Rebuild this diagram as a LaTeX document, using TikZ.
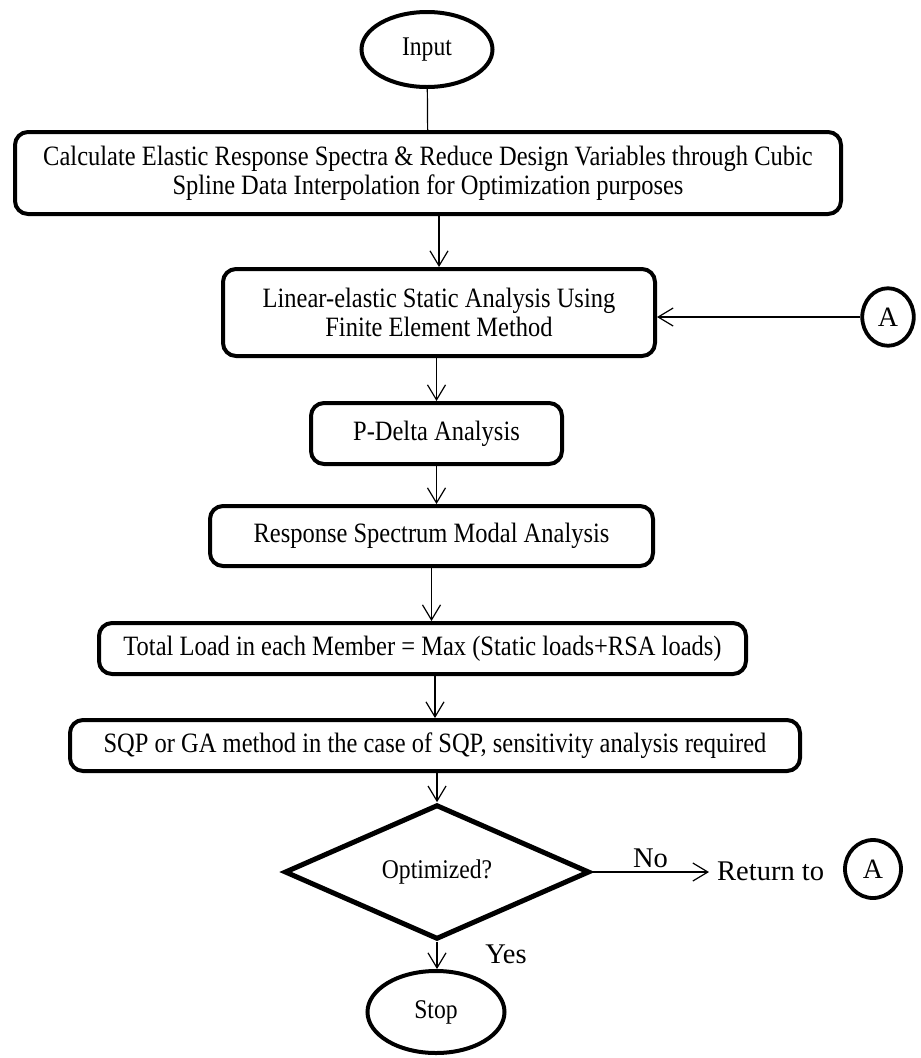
\documentclass[tikz,border=0pt]{standalone}
\usepackage{fontspec}
\setmainfont{Liberation Serif}[FakeStretch=0.875]
\newfontfamily\labelfont{Liberation Serif}
\usetikzlibrary{shapes.geometric, arrows.meta}

\tikzset{
  procbox/.style={draw, line width=4pt, rounded corners=13pt, align=center,
    inner sep=0pt, font=\fontsize{28}{29}\selectfont},
  termnode/.style={draw, ellipse, line width=4pt, inner sep=0pt,
    font=\fontsize{27}{29}\selectfont},
  decision/.style={draw, diamond, line width=5pt, inner sep=0pt,
    font=\fontsize{27}{29}\selectfont},
  linkcirc/.style={draw, ellipse, line width=3.8pt, inner sep=0pt,
    font=\labelfont\fontsize{28}{30}\selectfont},
  biglabel/.style={inner sep=0pt, font=\labelfont\fontsize{28.5}{30}\selectfont},
  flow/.style={line width=1.2pt, -{Straight Barb[length=15pt,width=18pt]}}
}

\begin{document}
\begin{tikzpicture}[x=1pt, y=-1pt]
                \useasboundingbox (0,0) rectangle (921,1058);
                % main column
                \node[termnode, minimum width=131pt, minimum height=75pt] (input) at (427,49.5) {Input};
                \node[procbox, minimum width=826pt, minimum height=82pt] (calc) at (428,173)
                    {Calculate Elastic Response Spectra \& Reduce Design Variables through Cubic\\
                     Spline Data Interpolation for Optimization purposes};
                \node[procbox, minimum width=432pt, minimum height=87pt] (lin) at (439,312.5)
                    {Linear-elastic Static Analysis Using\\ Finite Element Method};
                \node[procbox, minimum width=251pt, minimum height=61pt] (pdelta) at (436.5,433.5) {P-Delta Analysis};
                \node[procbox, minimum width=443pt, minimum height=60pt] (rsma) at (431.5,536) {Response Spectrum Modal Analysis};
                \node[procbox, minimum width=647pt, minimum height=51pt] (total) at (422.5,648.5)
                    {Total Load in each Member = Max (Static loads+RSA loads)};
                \node[procbox, minimum width=730pt, minimum height=51pt] (sqp) at (435,745.5)
                    {SQP or GA method in the case of SQP, sensitivity analysis required};
                \node[decision, minimum width=305pt, minimum height=106pt] (opt) at (437,872) {Optimized?};
                \node[termnode, minimum width=137pt, minimum height=82pt] (stop) at (436,1012) {Stop};

                % connectors A
                \node[linkcirc, minimum width=51.5pt, minimum height=57.5pt] (linkA) at (888,317) {A};
                \node[biglabel, anchor=west] (retto) at (717,871) {Return to};
                \node[linkcirc, minimum width=56pt, minimum height=58pt] (backA) at (873,869) {A};
                \coordinate (noend) at (709,872);

                % arrows
                \draw[line width=1.2pt] (input) -- (calc);
                \draw[flow] (lin.north |- calc.south) -- (lin.north);
                \draw[flow] (pdelta.north |- lin.south) -- (pdelta.north);
                \draw[flow] (pdelta.south) -- (pdelta.south |- rsma.north);
                \draw[flow] (rsma.south) -- (rsma.south |- total.north);
                \draw[flow] (sqp.north |- total.south) -- (sqp.north);
                \draw[flow] (sqp.south -| opt.north) -- (opt.north);
                \draw[flow] (opt.south) -- (opt.south |- stop.north);
                \draw[flow] (linkA.west) -- (linkA.west -| lin.east);
                \draw[flow] (opt.east) -- (noend) node[biglabel, midway, above=4pt] (nolbl) {No};
                \node[biglabel] (yeslbl) at (506,954) {Yes};
            \end{tikzpicture}
\end{document}
